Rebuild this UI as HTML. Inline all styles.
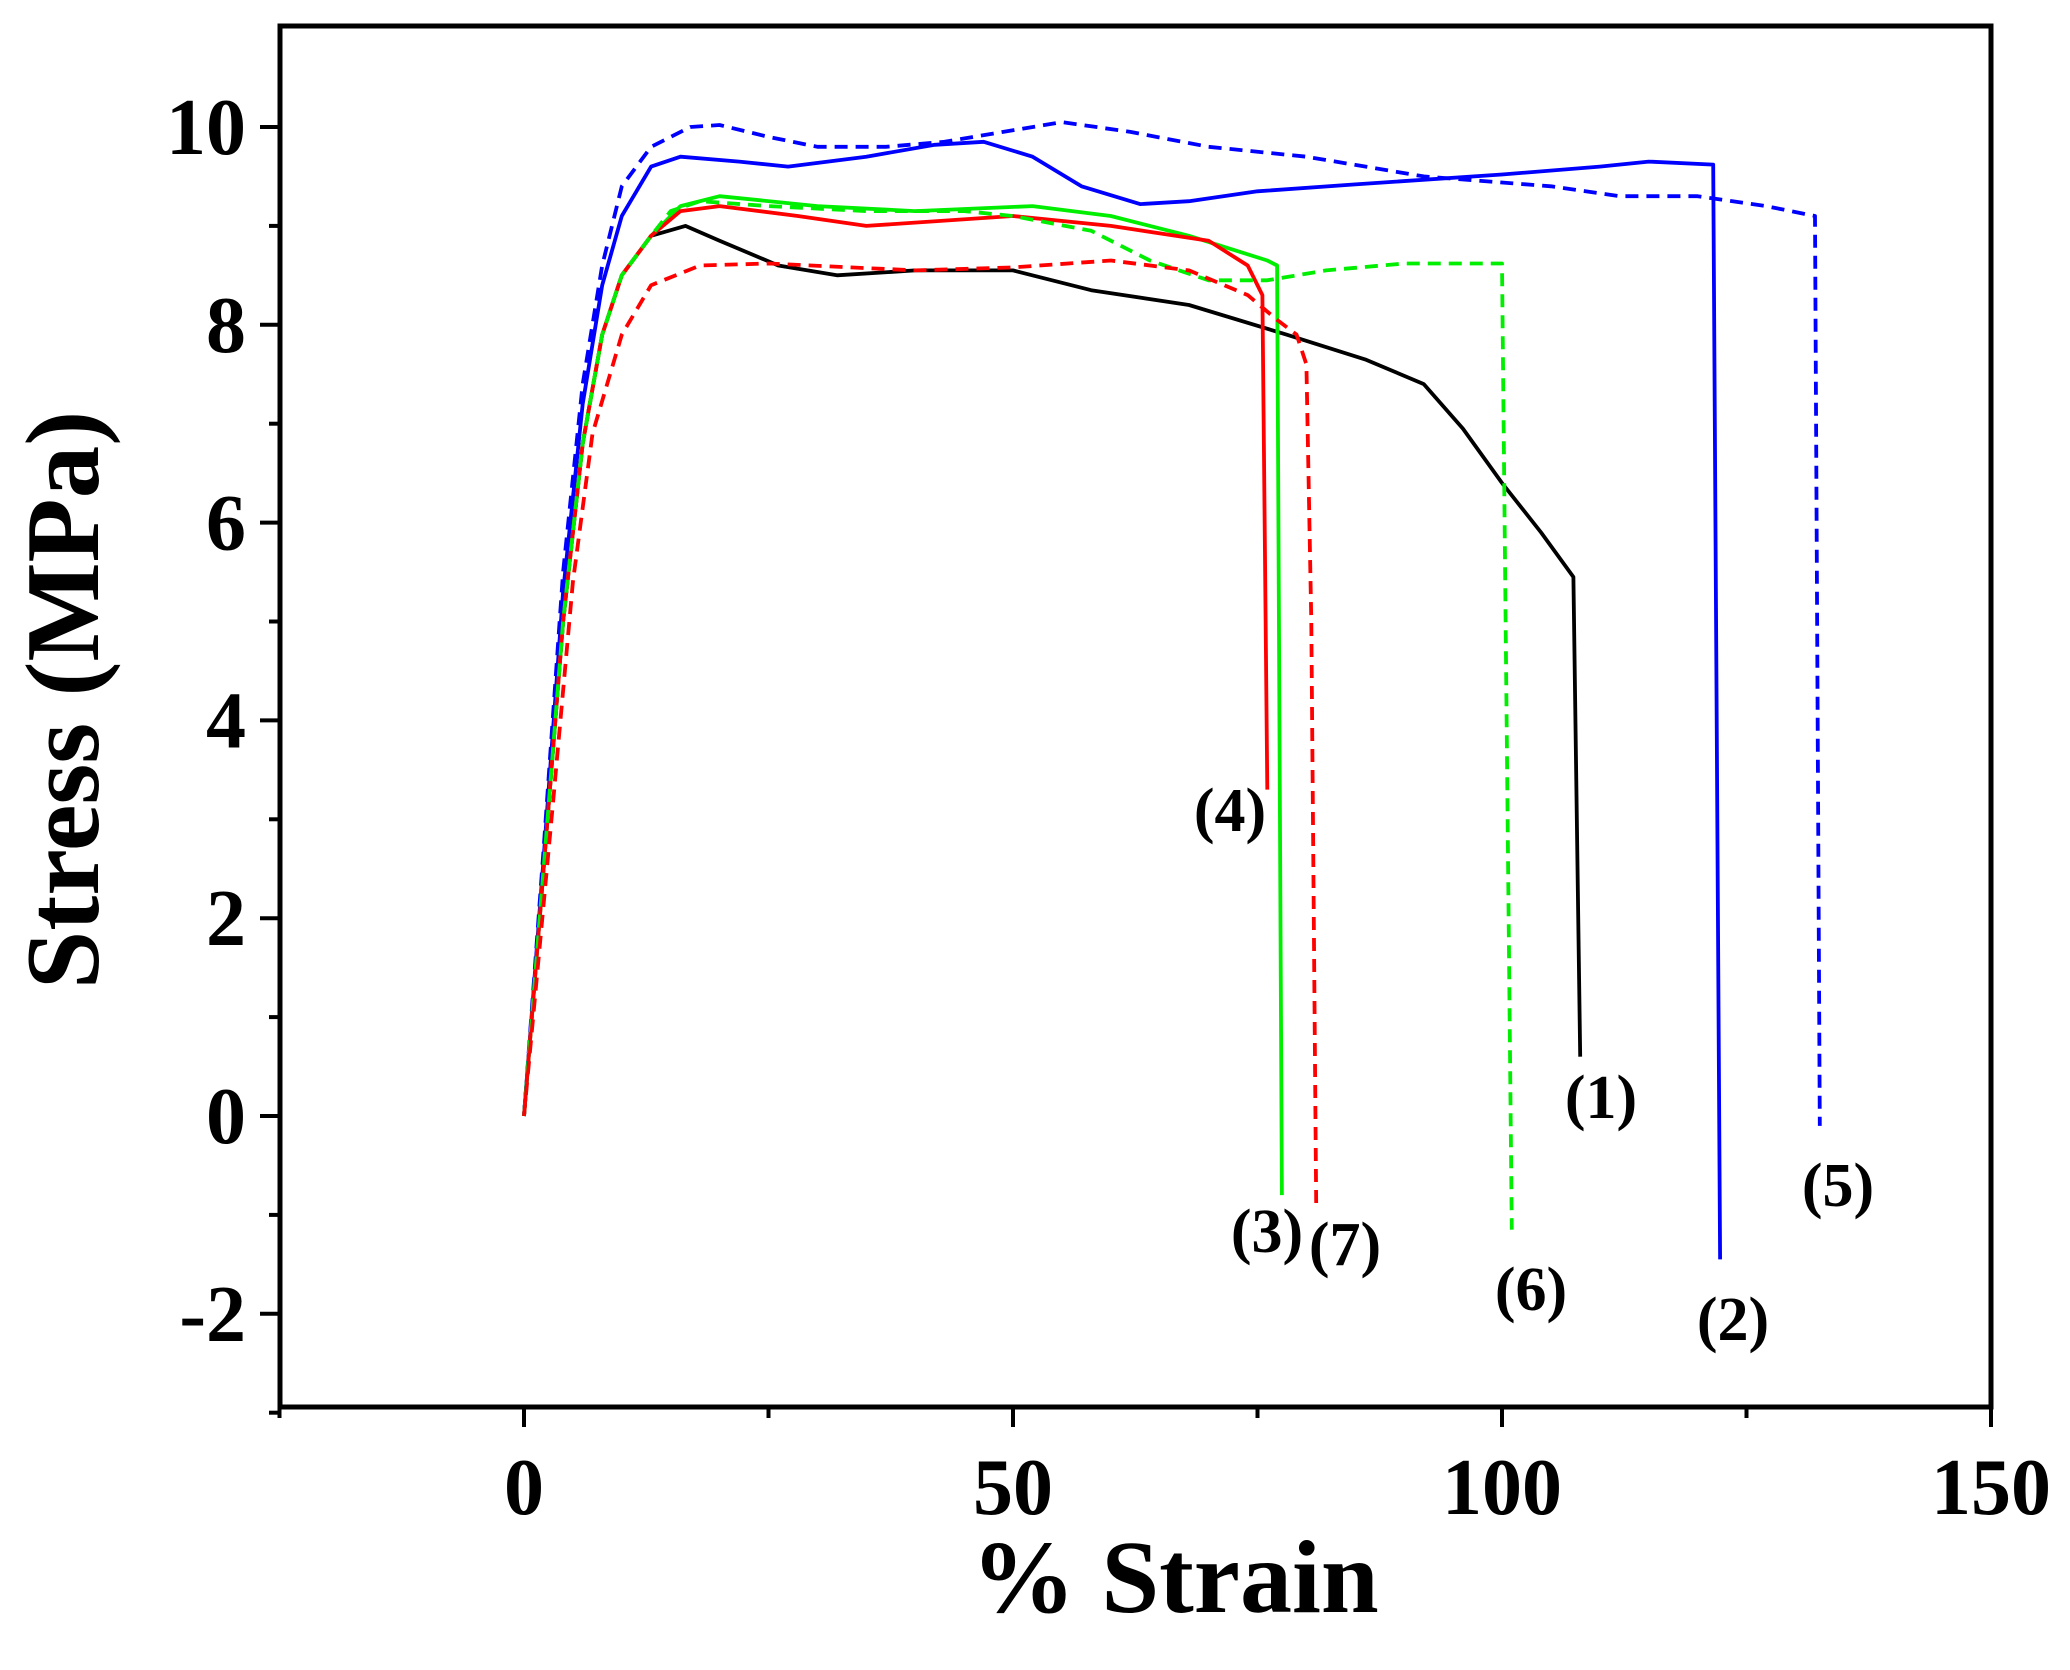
<!DOCTYPE html><html><head><style>body{margin:0;background:#fff}svg{display:block}text{font-family:"Liberation Serif",serif;font-weight:bold}</style></head><body>
<svg id="s" width="2070" height="1670" xmlns="http://www.w3.org/2000/svg">
<rect x="280" y="26" width="1711" height="1381" fill="none" stroke="#000" stroke-width="5"/>
<g id="t" stroke="#000" stroke-width="4"></g>
<g id="c" fill="none" stroke-width="3.8" stroke-linejoin="round"></g>
<g font-size="80" text-anchor="middle" id="xl"></g>
<g font-size="80" text-anchor="end" id="yl"></g>
<text x="1175" y="1612" font-size="104" text-anchor="middle">% Strain</text>
<text transform="translate(98,700) rotate(-90)" font-size="105" text-anchor="middle">Stress (MPa)</text>
<g font-size="62" text-anchor="middle">
<text x="1601" y="1118">(1)</text><text x="1733" y="1340">(2)</text><text x="1267" y="1252">(3)</text><text x="1230" y="831">(4)</text><text x="1838" y="1206">(5)</text><text x="1531" y="1310">(6)</text><text x="1345" y="1265">(7)</text>
</g>
</svg>
<script>
const X=v=>524+9.78*v,Y=v=>1116-98.9*v,ns="http://www.w3.org/2000/svg";
function el(p,t,a,txt){const e=document.createElementNS(ns,t);for(const k in a)e.setAttribute(k,a[k]);if(txt!==undefined)e.textContent=txt;document.getElementById(p).appendChild(e);}
for(let v=-25;v<=150;v+=25){const m=v%50==0;el('t','line',{x1:X(v),x2:X(v),y1:1407,y2:1407+(m?20:11)});if(m)el('xl','text',{x:X(v),y:1514},v);}
for(let v=-3;v<=10;v++){const m=v%2==0;el('t','line',{x1:280,x2:280-(m?20:11),y1:Y(v),y2:Y(v)});if(m)el('yl','text',{x:246,y:Y(v)+27},v);}
const rise=[[0,0],[2,2.5],[4,5],[6,6.8],[8,7.9],[10,8.5],[13,8.9]];
const S=[
['#000',0,[...rise,[16.5,9.0],[20,8.85],[26,8.6],[32,8.5],[40,8.55],[50,8.55],[58,8.35],[68,8.2],[78,7.9],[86,7.65],[92,7.4],[96,6.95],[100,6.4],[104,5.9],[107.3,5.45],[108,0.6]]],
['#00f',0,[[0,0],[2,2.6],[4,5.3],[6,7.2],[8,8.4],[10,9.1],[13,9.6],[16,9.7],[22,9.65],[27,9.6],[35,9.7],[42,9.82],[47,9.85],[52,9.7],[57,9.4],[63,9.22],[68,9.25],[75,9.35],[85,9.42],[100,9.52],[110,9.6],[115,9.65],[121.6,9.62],[122.3,-1.45]]],
['#0e0',0,[...rise,[16,9.2],[20,9.3],[30,9.2],[40,9.15],[52,9.2],[60,9.1],[68,8.9],[76,8.65],[77,8.6],[77.5,-0.8]]],
['#f00',0,[...rise,[16,9.15],[20,9.2],[28,9.1],[35,9.0],[50,9.1],[60,9.0],[70,8.85],[74,8.6],[75.5,8.3],[76,3.3]]],
['#00f',1,[[0,0],[2,2.7],[4,5.5],[6,7.4],[8,8.6],[10,9.4],[13,9.8],[17,10.0],[20,10.02],[25,9.9],[30,9.8],[37,9.8],[43,9.85],[49,9.95],[55,10.05],[62,9.95],[70,9.8],[80,9.7],[92,9.5],[105,9.4],[112,9.3],[120,9.3],[127,9.2],[132,9.1],[132.5,-0.1]]],
['#0e0',1,[...rise,[15,9.15],[18,9.25],[25,9.2],[35,9.15],[45,9.15],[50,9.1],[58,8.95],[64,8.65],[70,8.45],[76,8.45],[82,8.55],[90,8.62],[100,8.62],[101,-1.15]]],
['#f00',1,[[0,0],[3,3.2],[5,5.4],[7,6.9],[10,7.9],[13,8.4],[18,8.6],[25,8.62],[40,8.55],[50,8.58],[60,8.65],[68,8.55],[74,8.3],[77,8.05],[79,7.9],[80,7.6],[80.5,5],[81,-0.9]]]];
for(const [c,d,p] of S){el('c','polyline',{stroke:c,'stroke-dasharray':d?'13 8':'none',points:p.map(q=>X(q[0]).toFixed(1)+','+Y(q[1]).toFixed(1)).join(' ')});}
</script></body></html>
